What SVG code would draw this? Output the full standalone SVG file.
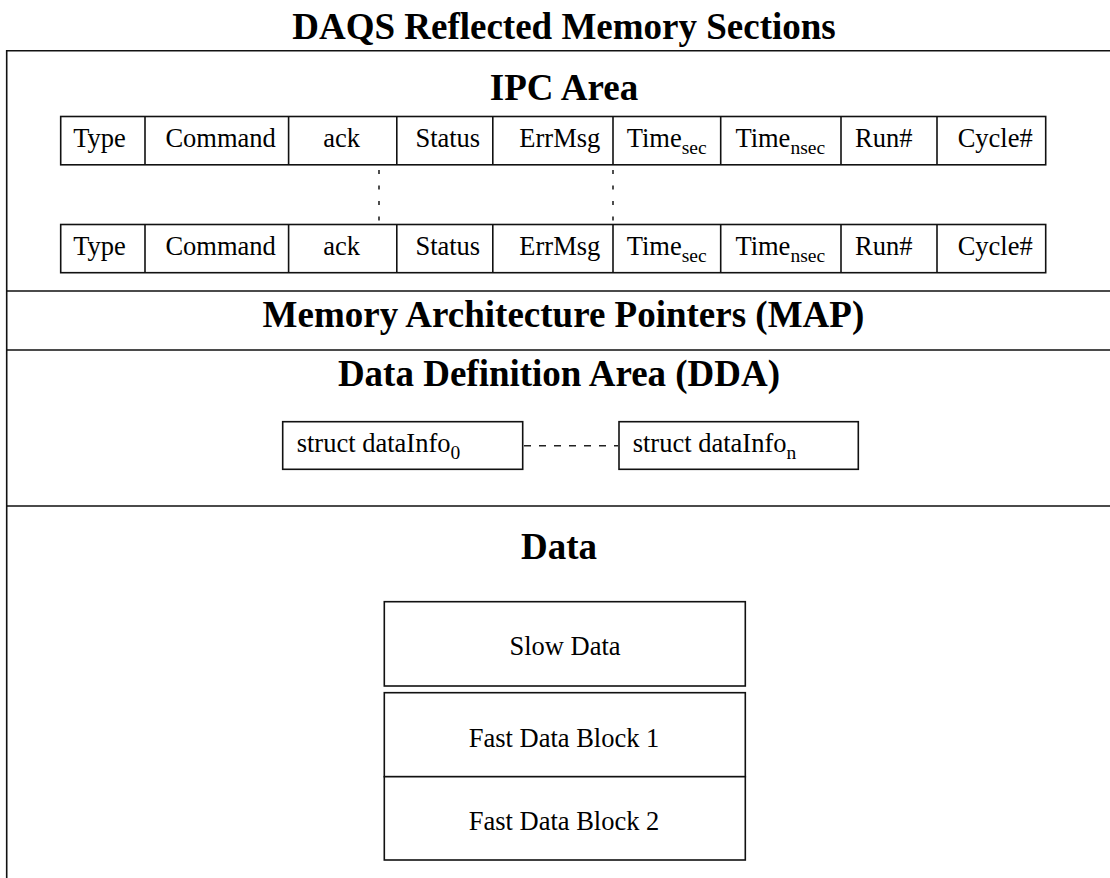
<svg xmlns="http://www.w3.org/2000/svg" width="1110" height="878" viewBox="0 0 1110 878">
<style>
.ln{stroke:#111;stroke-width:1.6;fill:none}
.box{stroke:#111;stroke-width:1.6;fill:#fff}
.h{font-family:"Liberation Serif","Times New Roman",serif;font-weight:bold;font-size:37px;fill:#000;text-anchor:middle}
.t{font-family:"Liberation Serif","Times New Roman",serif;font-size:26.5px;fill:#000}
.s{font-size:19.5px}
.dot{stroke:#222;stroke-width:1.6;stroke-dasharray:4 11.5;fill:none}
.dash{stroke:#222;stroke-width:1.4;stroke-dasharray:7 8;fill:none}
</style>
<rect width="1110" height="878" fill="#fff"/>
<g id="frame">
<text class="h" x="564" y="39">DAQS Reflected Memory Sections</text>
<path class="ln" d="M6.7 880 V50.7 H1112 M6.7 291 H1112 M6.7 350 H1112 M6.7 506 H1112"/>
</g>
<g id="ipc">
<text class="h" x="564" y="100">IPC Area</text>
<g id="row1">
<rect class="box" x="60.7" y="116.5" width="985" height="48.3"/>
<path class="ln" d="M145 116.5V164.8M288.6 116.5V164.8M396.8 116.5V164.8M492.8 116.5V164.8M613 116.5V164.8M720.7 116.5V164.8M841 116.5V164.8M937 116.5V164.8"/>
<text class="t" y="146.7"><tspan x="73.2">Type</tspan><tspan x="165.4">Command</tspan><tspan x="323.2">ack</tspan><tspan x="415.4">Status</tspan><tspan x="519.3">ErrMsg</tspan></text>
<text class="t" x="626.7" y="146.7">Time<tspan class="s" dy="7">sec</tspan></text>
<text class="t" x="735.4" y="146.7">Time<tspan class="s" dy="7">nsec</tspan></text>
<text class="t" y="146.7"><tspan x="855">Run#</tspan><tspan x="957.7">Cycle#</tspan></text>
</g>
<g id="row2">
<rect class="box" x="60.7" y="224.5" width="985" height="48.2"/>
<path class="ln" d="M145 224.5V272.7M288.6 224.5V272.7M396.8 224.5V272.7M492.8 224.5V272.7M613 224.5V272.7M720.7 224.5V272.7M841 224.5V272.7M937 224.5V272.7"/>
<text class="t" y="255"><tspan x="73.2">Type</tspan><tspan x="165.4">Command</tspan><tspan x="323.2">ack</tspan><tspan x="415.4">Status</tspan><tspan x="519.3">ErrMsg</tspan></text>
<text class="t" x="626.7" y="255">Time<tspan class="s" dy="7">sec</tspan></text>
<text class="t" x="735.4" y="255">Time<tspan class="s" dy="7">nsec</tspan></text>
<text class="t" y="255"><tspan x="855">Run#</tspan><tspan x="957.7">Cycle#</tspan></text>
</g>
</g>
<g id="map">
<text class="h" x="563.4" y="327">Memory Architecture Pointers (MAP)</text>
</g>
<g id="dda">
<text class="h" x="559" y="386">Data Definition Area (DDA)</text>
</g>
<g id="dataInfo0">
<rect class="box" x="282.7" y="421.7" width="240" height="47.6"/>
<text class="t" x="296.7" y="451.7">struct dataInfo<tspan class="s" dy="7.5">0</tspan></text>
</g>
<g id="dataInfoN">
<rect class="box" x="619" y="421.7" width="239.3" height="47.6"/>
<text class="t" x="632.7" y="451.7">struct dataInfo<tspan class="s" dy="7.5">n</tspan></text>
</g>
<g id="data">
<text class="h" x="559" y="559">Data</text>
</g>
<g id="slowData">
<rect class="box" x="384.3" y="601.7" width="361" height="84.3"/>
<text class="t" x="565" y="655" text-anchor="middle">Slow Data</text>
</g>
<g id="fastBlock1">
<rect class="box" x="384.3" y="692.7" width="361" height="84"/>
<text class="t" x="564" y="746.7" text-anchor="middle">Fast Data Block 1</text>
</g>
<g id="fastBlock2">
<rect class="box" x="384.3" y="776.7" width="361" height="83.3"/>
<text class="t" x="564" y="830" text-anchor="middle">Fast Data Block 2</text>
</g>
<g id="connectors">
<path class="dot" d="M379 170V224"/>
<path class="dot" d="M613 170V224"/>
<path class="dash" d="M524 445.7H618"/>
</g>
</svg>
